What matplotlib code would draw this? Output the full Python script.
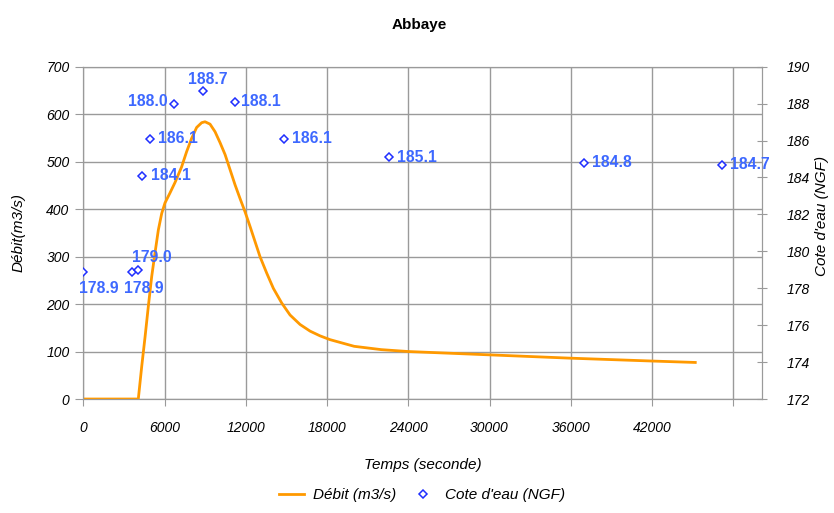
import matplotlib.pyplot as plt

plt.rcParams['font.family'] = ['Liberation Sans', 'DejaVu Sans']

# Débit (m3/s) hydrogramme
temps_debit = [0, 4050, 4300, 4550, 4790, 5040, 5280, 5530, 5780, 6020,
               6390, 6760, 7250, 7620, 7990, 8360, 8730, 8980, 9350, 9720,
               10090, 10460, 10830, 11200, 11570, 11940, 12300, 12670, 13040,
               13540, 14030, 14650, 15260, 16000, 16740, 17480, 18220, 20000,
               22000, 24000, 30000, 36000, 42000, 45200]
debit = [0, 0, 68, 131, 195, 258, 307, 356, 391, 413,
         434, 456, 489, 521, 549, 572, 582, 584, 579, 563,
         540, 515, 483, 451, 422, 394, 364, 332, 300,
         265, 233, 202, 177, 157, 143, 133, 125, 111,
         104, 100, 93, 86, 80, 77]

# Cote d'eau (NGF) relevée
temps_cote = [0, 3600, 4000, 4300, 4900, 6700, 8800, 11200, 14800, 22600, 37000, 47200]
cote = [178.9, 178.9, 179.0, 184.1, 186.1, 188.0, 188.7, 188.1, 186.1, 185.1, 184.8, 184.7]
# placement des étiquettes (décalage en pixels, alignements)
label_pos = [((-4, -9), 'left', 'top'),
             ((-8, -9), 'left', 'top'),
             ((-6, 5), 'left', 'bottom'),
             ((9, 0), 'left', 'center'),
             ((8, 0), 'left', 'center'),
             ((-7, 2), 'right', 'center'),
             ((5, 4), 'center', 'bottom'),
             ((6, 0), 'left', 'center'),
             ((8, 0), 'left', 'center'),
             ((8, 0), 'left', 'center'),
             ((8, 0), 'left', 'center'),
             ((8, 0), 'left', 'center')]

xticks = list(range(0, 48001, 6000))
xticklabels = [str(t) for t in xticks[:-1]] + ['']

grid_col = '#9a9a9a'
orange = '#FF9900'
blue = '#1f2fff'
label_blue = '#3d68ff'

fig = plt.figure(figsize=(8.34, 5.13), dpi=100)
ax = fig.add_axes([0.1001, 0.2222, 0.8139, 0.6478])
ax2 = ax.twinx()

line, = ax.plot(temps_debit, debit, color=orange, lw=2, label='Débit (m3/s)', zorder=3)
pts, = ax2.plot(temps_cote, cote, ls='none', marker='D', markersize=4,
                markerfacecolor='white', markeredgecolor=blue, markeredgewidth=1.1,
                label="Cote d'eau (NGF)", zorder=4)
for x, y, (off, ha, va) in zip(temps_cote, cote, label_pos):
    ax2.annotate(f'{y:.1f}', (x, y), xytext=off, textcoords='offset pixels',
                 ha=ha, va=va, color=label_blue, fontsize=11.3, fontweight='bold')

ax.set_xlim(0, 50150)
ax.set_ylim(0, 700)
ax2.set_ylim(172, 190)
ax.set_xticks(xticks)
ax.set_xticklabels(xticklabels)
ax.set_yticks(range(0, 701, 100))
ax2.set_yticks(range(172, 191, 2))

ax.grid(True, color=grid_col, lw=1)
ax.set_axisbelow(True)
for a in (ax, ax2):
    for s in a.spines.values():
        s.set_color(grid_col)
ax.tick_params(axis='x', direction='out', length=5, color=grid_col, pad=11, labelsize=10)
ax.tick_params(axis='y', direction='out', length=6, color=grid_col, pad=4, labelsize=10)
ax2.tick_params(axis='y', direction='inout', length=7, color=grid_col, pad=14, labelsize=10)
for lab in ax.get_xticklabels() + ax.get_yticklabels() + ax2.get_yticklabels():
    lab.set_fontstyle('italic')

ax.set_xlabel('Temps (seconde)', fontsize=11, style='italic')
ax.xaxis.set_label_coords(0.5, -0.178)
ax.set_ylabel('Débit(m3/s)', fontsize=11, style='italic')
ax.yaxis.set_label_coords(-0.086, 0.5)
ax2.set_ylabel("Cote d'eau (NGF)", fontsize=11, style='italic')
ax2.yaxis.set_label_coords(1.077, 0.55)

fig.suptitle('Abbaye', x=0.503, y=0.965, fontsize=11, fontweight='bold')

fig.legend([line, pts], ['Débit (m3/s)', "Cote d'eau (NGF)"], loc='center',
           bbox_to_anchor=(0.506, 0.035), ncol=2, frameon=False,
           prop={'style': 'italic', 'size': 11}, handlelength=1.6,
           handletextpad=0.6, columnspacing=1.0)

fig.savefig('out.png', dpi=100)
